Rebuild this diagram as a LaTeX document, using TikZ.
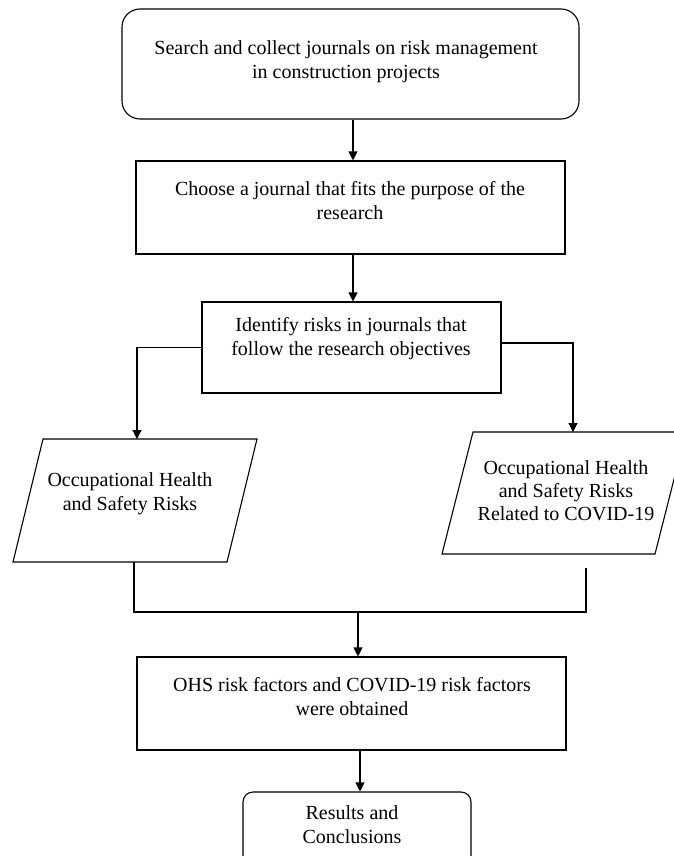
\documentclass[tikz,border=0pt]{standalone}
\usepackage{fontspec}
\setmainfont{Liberation Serif}
\usetikzlibrary{arrows.meta}
\begin{document}
\begin{tikzpicture}[x=1pt,y=-1pt,line width=1.1pt,
  boxshape/.style={draw,inner sep=0pt,minimum width=#1},
  txt/.style={align=center,inner sep=0pt,font=\fontsize{20}{24}\selectfont},
  arr/.style={-{Triangle[length=9pt,width=9pt]}}]
\useasboundingbox (0,0) rectangle (673,856);
% boxes
\node[boxshape=457pt,minimum height=110pt,rounded corners=18pt] (b1) at (350.5,64) {};
\node[boxshape=429pt,minimum height=93pt] (b2) at (350.5,207.5) {};
\node[boxshape=299pt,minimum height=91pt] (b3) at (351.5,347.5) {};
\node[boxshape=429pt,minimum height=93pt] (b4) at (351.5,703.5) {};
\node[boxshape=228pt,minimum height=88pt,rounded corners=10pt] (b5) at (357,836) {};
% parallelograms
\coordinate (lpT) at (137,439);
\coordinate (rpT) at (573,432);
\coordinate (lpB) at (134,562);
\coordinate (rpB) at (586,568);
\coordinate (jn) at (358,612);
\draw (43,439) -- (257,439) -- (227,562) -- (13,562) -- cycle;
\draw (473,432) -- (686,432) -- (655,554) -- (442,554) -- cycle;
% texts
\node[txt] (t1) at (346,62) {Search and collect journals on risk management\\in construction projects};
\node[txt] (t2) at (350,201) {Choose a journal that fits the purpose of the\\research};
\node[txt] (t3) at (351,339) {Identify risks in journals that\\follow the research objectives};
\node[txt] (t4) at (130,494) {Occupational Health\\and Safety Risks};
\node[txt,font=\fontsize{20}{23}\selectfont] (t5) at (566,491) {Occupational Health\\and Safety Risks\\Related to COVID-19};
\node[txt] (t6) at (352,696.5) {OHS risk factors and COVID-19 risk factors\\were obtained};
\node[txt] (t7) at (352,825) {Results and\\Conclusions};
% connectors
\draw[arr] ([xshift=2.5pt]b1.south) -- ([xshift=2.5pt]b1.south |- b2.north);
\draw[arr] ([xshift=2.5pt]b2.south) -- ([xshift=2.5pt]b2.south |- b3.north);
\draw[arr] (b3.west) -| (lpT);
\draw[arr] ([yshift=4.5pt]b3.east) -| (rpT);
\draw (lpB) -- (lpB |- jn) -- (rpB |- jn) -- (rpB);
\draw[arr] (jn) -- (jn |- b4.north);
\draw[arr] ([xshift=8.5pt]b4.south) -- ([xshift=8.5pt]b4.south |- b5.north);
\end{tikzpicture}
\end{document}
